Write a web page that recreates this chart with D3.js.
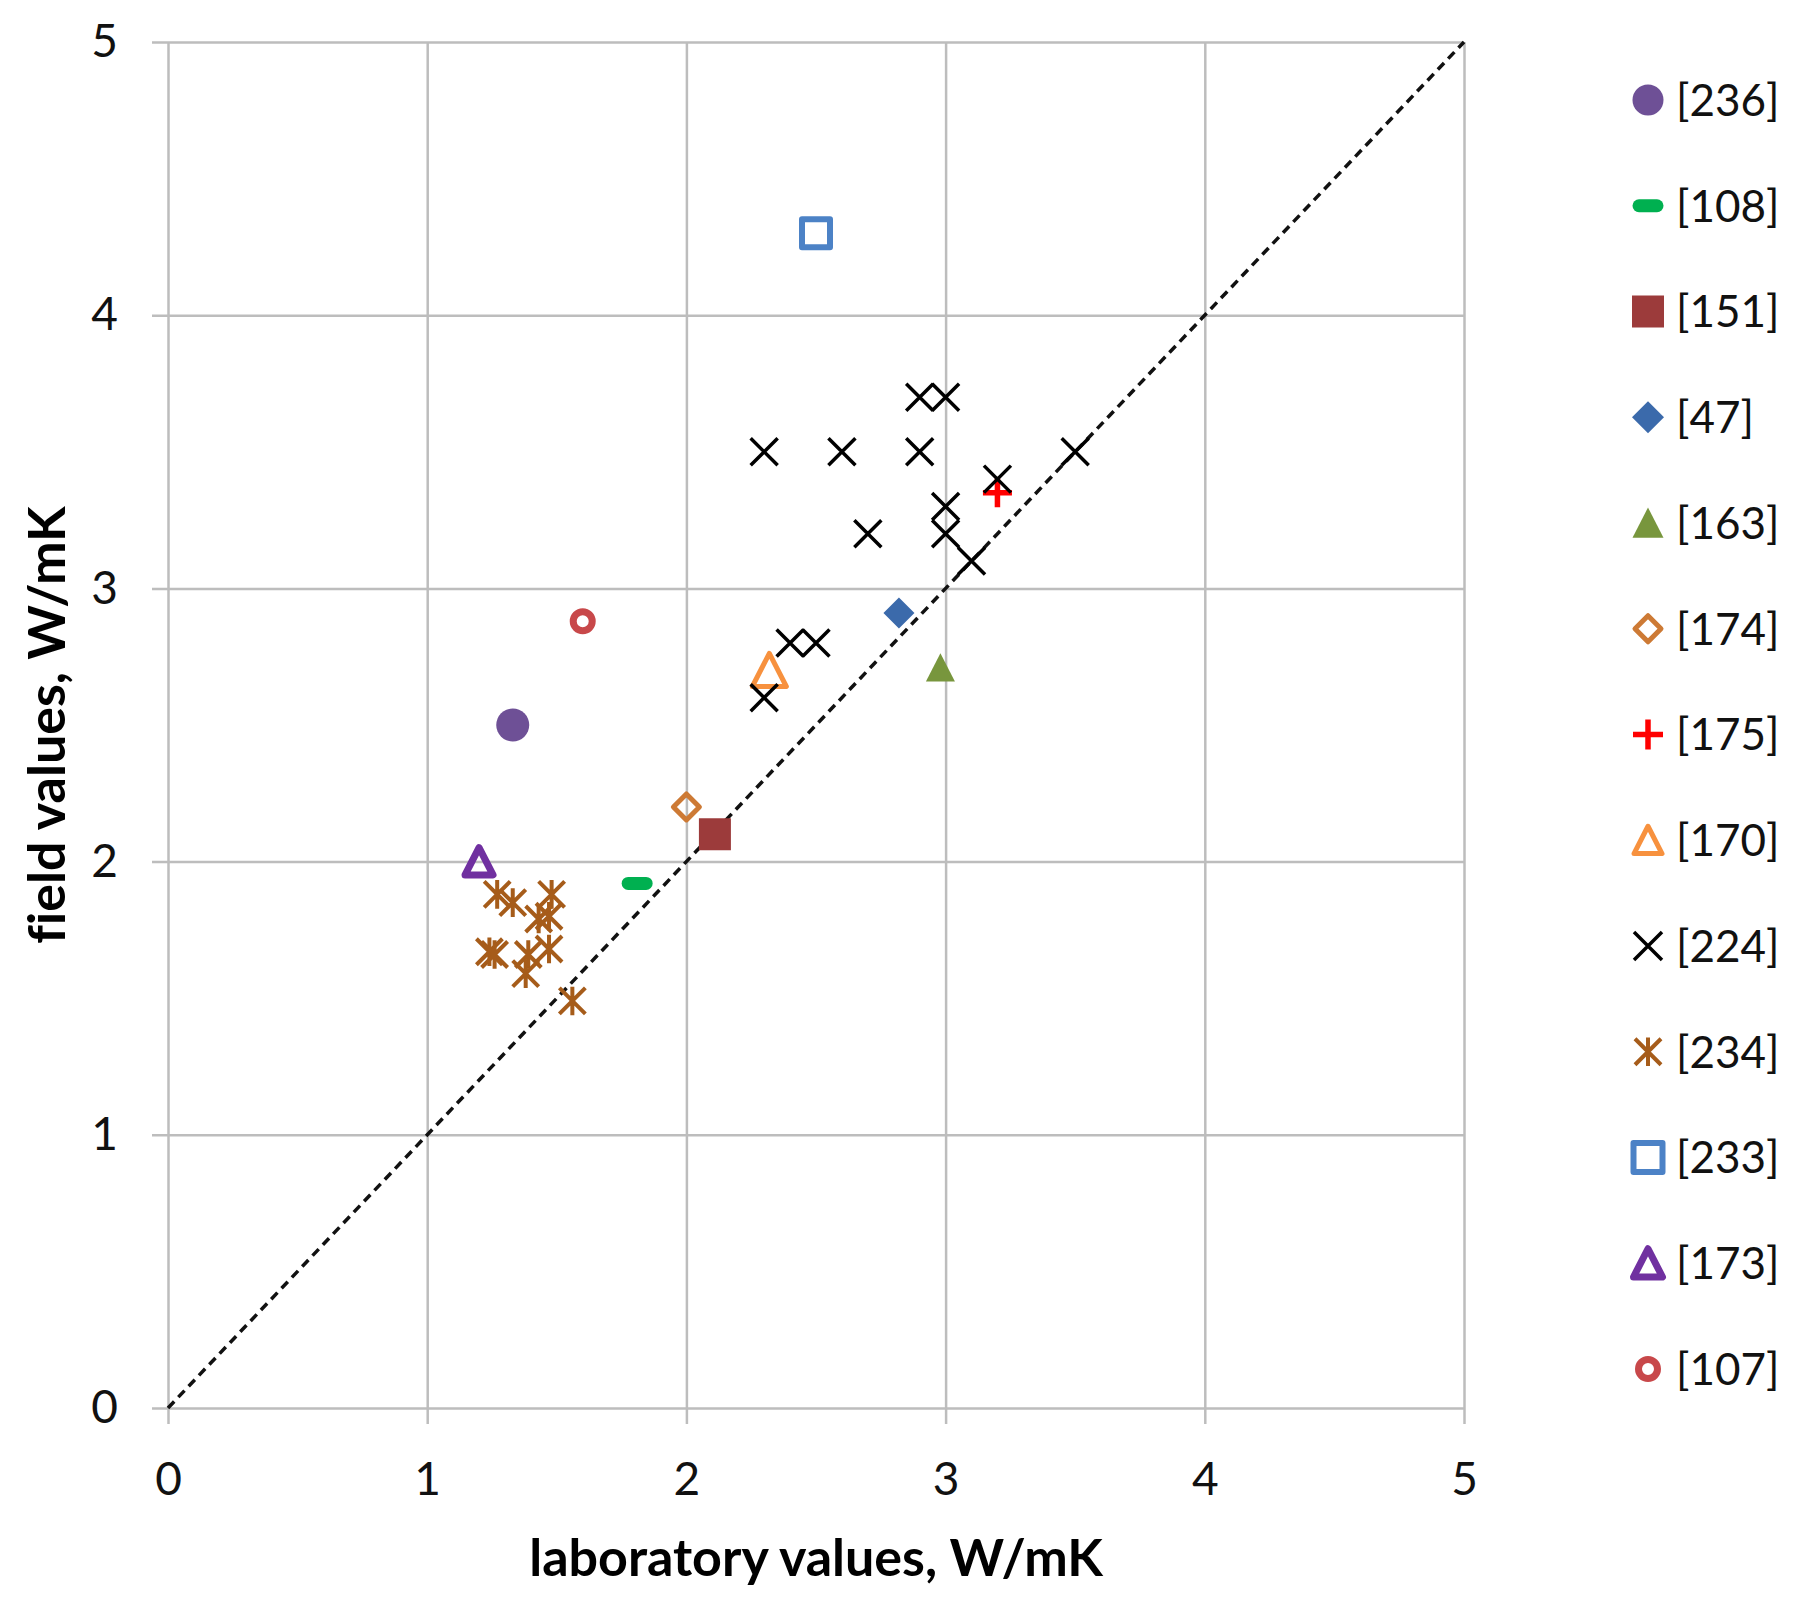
<!DOCTYPE html>
<html>
<head>
<meta charset="utf-8">
<script src="https://cdn.jsdelivr.net/npm/d3@7"></script>
<style>
  html, body { margin: 0; padding: 0; background: #fff; }
  svg { display: block; }
  text { font-variant-ligatures: none; font-feature-settings: "liga" 0; }
</style>
</head>
<body>
<div id="chart"></div>
<script>
// data (laboratory vs field thermal conductivity, W/mK)
const seriesNames = ["[236]", "[108]", "[151]", "[47]", "[163]", "[174]", "[175]",
                     "[170]", "[224]", "[234]", "[233]", "[173]", "[107]"];

const labValues = [
  [1.33],
  [1.81],
  [2.11],
  [2.82],
  [2.98],
  [2.0],
  [3.2],
  [2.32],
  [2.3, 2.6, 2.9, 2.9, 3.0, 3.2, 3.5, 3.0, 3.0, 2.7, 3.1, 2.4, 2.5, 2.3],
  [1.27, 1.33, 1.48, 1.47, 1.43, 1.24, 1.26, 1.39, 1.47, 1.38, 1.56],
  [2.5],
  [1.2],
  [1.6]
];

const fieldValues = [
  [2.5],
  [1.92],
  [2.1],
  [2.91],
  [2.71],
  [2.2],
  [3.35],
  [2.7],
  [3.5, 3.5, 3.5, 3.7, 3.7, 3.4, 3.5, 3.3, 3.2, 3.2, 3.1, 2.8, 2.8, 2.6],
  [1.88, 1.85, 1.88, 1.80, 1.79, 1.67, 1.66, 1.66, 1.68, 1.59, 1.49],
  [4.3],
  [2.0],
  [2.88]
];

const xTicks = [0, 1, 2, 3, 4, 5];
const yTicks = [0, 1, 2, 3, 4, 5];
const diagonal = [0, 5];

// marker look for each series, same order as seriesNames
const sym = {
  circle:   { draw(c, r) { c.moveTo(r, 0); c.arc(0, 0, r, 0, 2 * Math.PI); c.closePath(); } },
  dash:     { draw(c, r) { c.moveTo(-r, 0); c.lineTo(r, 0); } },
  square:   { draw(c, r) { c.moveTo(-r, -r); c.lineTo(r, -r); c.lineTo(r, r); c.lineTo(-r, r); c.closePath(); } },
  diamond:  { draw(c, r) { c.moveTo(0, -r); c.lineTo(r, 0); c.lineTo(0, r); c.lineTo(-r, 0); c.closePath(); } },
  triangle: { draw(c, r) { c.moveTo(0, -r); c.lineTo(r, r * 0.95); c.lineTo(-r, r * 0.95); c.closePath(); } },
  plus:     { draw(c, r) { c.moveTo(-r, 0); c.lineTo(r, 0); c.moveTo(0, -r); c.lineTo(0, r); } },
  times:    { draw(c, r) { c.moveTo(-r, -r); c.lineTo(r, r); c.moveTo(r, -r); c.lineTo(-r, r); } },
  star:     { draw(c, r) { c.moveTo(-r, -r); c.lineTo(r, r); c.moveTo(r, -r); c.lineTo(-r, r);
                           c.moveTo(0, -r * 1.1); c.lineTo(0, r * 1.1); } }
};

const markers = [
  { type: sym.circle,   r: 16.5, lr: 15.5, fill: "#6e5096" },
  { type: sym.dash,     r: 9,    lr: 9,    stroke: "#00b050", sw: 13 },
  { type: sym.square,   r: 16,   lr: 16,   fill: "#9c3b3b" },
  { type: sym.diamond,  r: 15.5, lr: 16,   fill: "#3b6aab" },
  { type: sym.triangle, r: 14.5, lr: 15.5, fill: "#78963d" },
  { type: sym.diamond,  r: 13,   lr: 13,   stroke: "#cd7a35", sw: 5 },
  { type: sym.plus,     r: 14.5, lr: 15,   stroke: "#ff0000", sw: 5.5 },
  { type: sym.triangle, r: 17,   lr: 14,   stroke: "#f7913e", sw: 5 },
  { type: sym.times,    r: 13.5, lr: 14,   stroke: "#000000", sw: 3.5 },
  { type: sym.star,     r: 13,   lr: 13,   stroke: "#a65c1a", sw: 4 },
  { type: sym.square,   r: 14,   lr: 14.5, stroke: "#4c82c6", sw: 6 },
  { type: sym.triangle, r: 14,   lr: 14.5, stroke: "#7030a0", sw: 7 },
  { type: sym.circle,   r: 9.5,  lr: 9.5,  stroke: "#c8484a", sw: 7 }
];

const W = 1804, H = 1605;
const font = "Lato, 'Open Sans', sans-serif";
const gridColor = "#bdbdbd";

const svg = d3.select('#chart')
  .append('svg')
    .attr('width', W)
    .attr('height', H);

const x = d3.scaleLinear().domain([0, 5]).range([168, 1464]);
const y = d3.scaleLinear().domain([0, 5]).range([1408, 42]);

// gridlines + tick labels come from the axes
const xAxis = svg.append('g')
  .attr('transform', `translate(0,${y(5)})`)
  .call(d3.axisBottom(x)
    .tickValues(xTicks)
    .tickSize(y(0) - y(5) + 16)
    .tickPadding(38)
    .tickFormat(d3.format('d')));

const yAxis = svg.append('g')
  .attr('transform', `translate(${x(5)},0)`)
  .call(d3.axisLeft(y)
    .tickValues(yTicks)
    .tickSize(x(5) - x(0) + 16)
    .tickPadding(34)
    .tickFormat(d3.format('d')));

[xAxis, yAxis].forEach((ax) => {
  ax.select('.domain').remove();
  ax.selectAll('.tick line')
    .attr('stroke', gridColor)
    .attr('stroke-width', 2.5);
  ax.selectAll('.tick text')
    .attr('fill', '#111')
    .style('font-family', font)
    .style('font-size', '46px');
});

// 1:1 line
svg.append('path')
  .datum(diagonal)
  .attr('d', d3.line().x((d) => x(d)).y((d) => y(d)))
  .attr('fill', 'none')
  .attr('stroke', '#111')
  .attr('stroke-width', 3.5)
  .attr('stroke-dasharray', '9,6');

function styleMarker(sel, m) {
  sel.attr('fill', m.fill || 'none')
    .attr('stroke', m.stroke || 'none')
    .attr('stroke-width', m.sw || 0)
    .attr('stroke-linejoin', 'round')
    .attr('stroke-linecap', m.type === sym.dash ? 'round' : 'butt');
}

// points
seriesNames.forEach((name, i) => {
  const m = markers[i];
  const pts = labValues[i].map((lx, j) => ({ lab: lx, field: fieldValues[i][j] }));
  svg.append('g')
    .attr('class', 'series')
    .selectAll('path')
    .data(pts)
    .enter()
    .append('path')
      .attr('transform', (d) => `translate(${x(d.lab)},${y(d.field)})`)
      .attr('d', d3.symbol().type(m.type).size(m.r))
      .call(styleMarker, m);
});

// legend
const ly = d3.scalePoint().domain(seriesNames).range([100, 1369]);
const legend = svg.append('g')
  .selectAll('g')
  .data(seriesNames)
  .enter()
  .append('g')
    .attr('transform', (d) => `translate(1648,${ly(d)})`);

legend.append('path')
  .attr('d', (d, i) => d3.symbol().type(markers[i].type).size(markers[i].lr)())
  .each(function(d, i) { d3.select(this).call(styleMarker, markers[i]); });

legend.append('text')
  .attr('x', 28)
  .attr('dy', '0.36em')
  .attr('fill', '#111')
  .style('font-family', font)
  .style('font-size', '44px')
  .text((d) => d);

// axis titles
svg.append('text')
  .attr('x', (x(0) + x(5)) / 2)
  .attr('y', 1576)
  .attr('text-anchor', 'middle')
  .style('font-family', font)
  .style('font-weight', 'bold')
  .style('font-size', '52px')
  .text('laboratory values, W/mK');

svg.append('text')
  .attr('transform', `translate(47,${(y(0) + y(5)) / 2}) rotate(-90)`)
  .attr('text-anchor', 'middle')
  .attr('dy', '0.35em')
  .style('font-family', font)
  .style('font-weight', 'bold')
  .style('font-size', '52px')
  .text('field values, W/mK');
</script>
</body>
</html>
